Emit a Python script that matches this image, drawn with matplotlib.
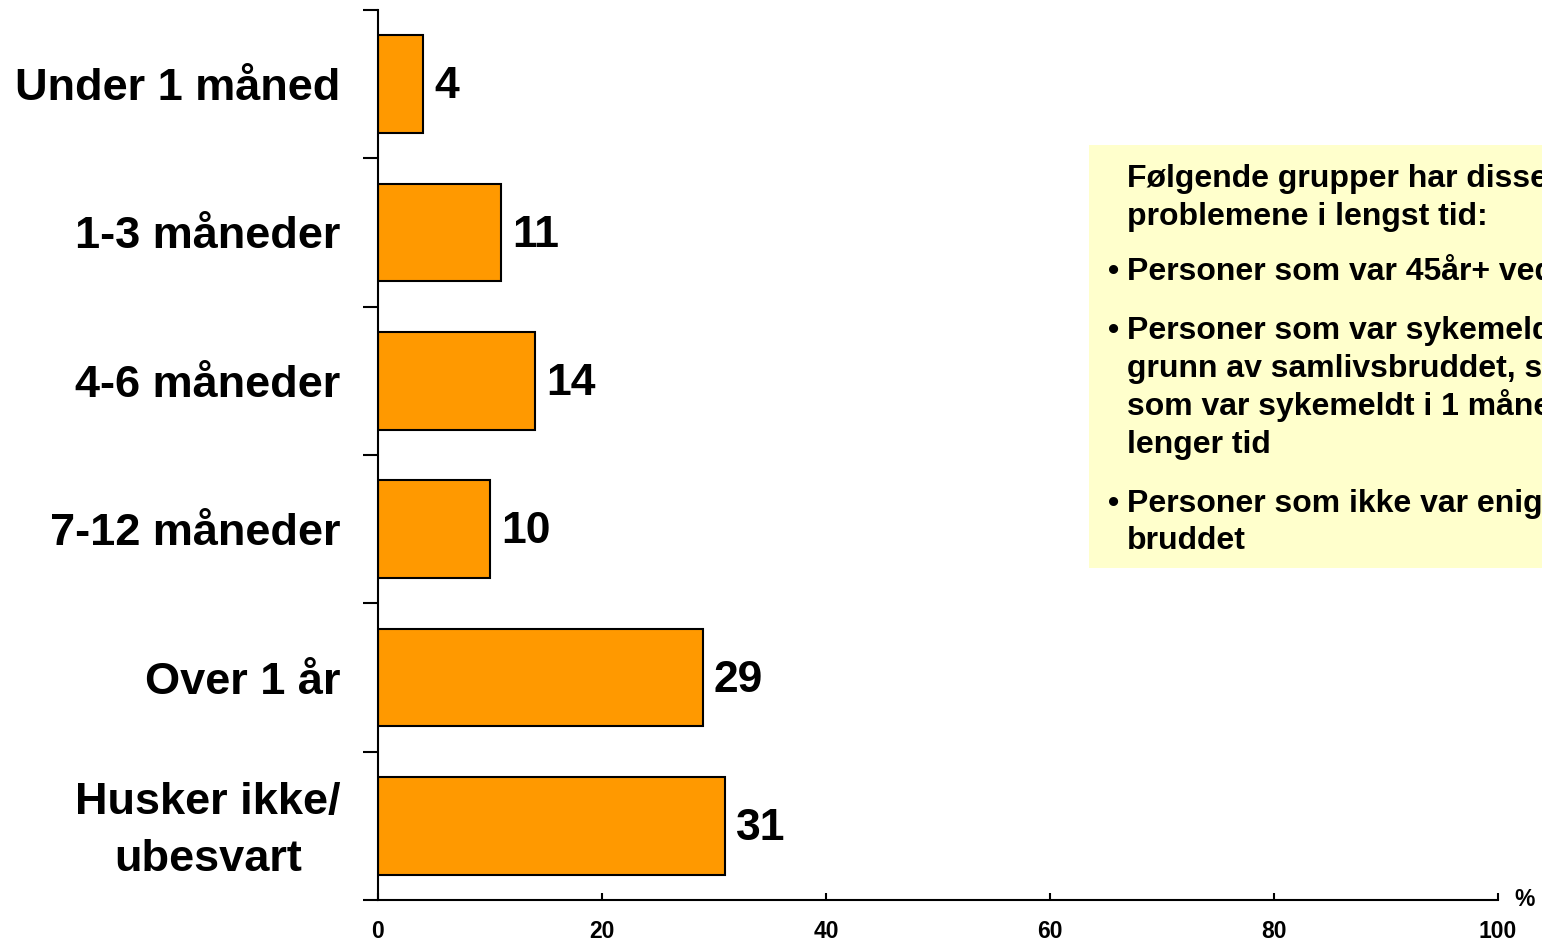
import matplotlib
matplotlib.use("Agg")
import matplotlib.pyplot as plt
from matplotlib.patches import Rectangle
from matplotlib.transforms import ScaledTranslation

plt.rcParams['font.family'] = ['Liberation Sans', 'DejaVu Sans']
plt.rcParams['font.weight'] = 'bold'

categories = ["Under 1 måned", "1-3 måneder", "4-6 måneder", "7-12 måneder",
              "Over 1 år", "Husker ikke/\nubesvart"]
values = [4, 11, 14, 10, 29, 31]
xticks = [0, 20, 40, 60, 80, 100]

box_header = ["Følgende grupper har disse", "problemene i lengst tid:"]
box_bullets = [
    ["Personer som var 45år+ ved bruddet"],
    ["Personer som var sykemeldt på",
     "grunn av samlivsbruddet, særlig de",
     "som var sykemeldt i 1 måned eller",
     "lenger tid"],
    ["Personer som ikke var enige i",
     "bruddet"],
]

W, H = 1542, 943
fig = plt.figure(figsize=(W / 100, H / 100), dpi=100)
ax = fig.add_axes([378 / W, 1 - 900 / H, (1498 - 378) / W, (900 - 10) / H])

n = len(categories)
ypos = list(range(n))
ax.barh(ypos, values, height=0.66, color="#FF9900", edgecolor="black", linewidth=1.5)
ax.set_ylim(n - 0.5, -0.5)
ax.set_xlim(0, 100)

for y, v in zip(ypos, values):
    ax.annotate(str(v), (v, y), xytext=(8, -2), textcoords="offset points",
                ha="left", va="center", fontsize=32, fontweight="bold")

# y boundaries ticks
ax.set_yticks([i - 0.5 for i in range(n + 1)])
ax.set_yticklabels([])
ax.tick_params(axis="y", which="major", length=11, width=1.5, direction="out")
ax.set_yticks(ypos, minor=True)
labels = ax.set_yticklabels(categories, minor=True, fontsize=32.5, fontweight="bold",
                            multialignment="center", linespacing=1.5)
ax.tick_params(axis="y", which="minor", length=0, pad=27)
for lab in labels:
    if "\n" in lab.get_text():
        lab.set_transform(lab.get_transform() + ScaledTranslation(0, 0.07, fig.dpi_scale_trans))

ax.set_xticks(xticks)
ax.set_xticklabels([str(t) for t in xticks], fontsize=16.5, fontweight="bold")
ax.tick_params(axis="x", direction="in", length=5, width=1.5, pad=14.5)

for s in ["top", "right"]:
    ax.spines[s].set_visible(False)
for s in ["left", "bottom"]:
    ax.spines[s].set_linewidth(1.5)

fig.text(1514 / W, 1 - 900 / H, "%", fontsize=16.5, fontweight="bold",
         ha="left", va="center")

# text box
fig.patches.append(Rectangle((1089 / W, 1 - 568 / H), (W - 1089) / W, (568 - 145) / H,
                             transform=fig.transFigure, facecolor="#FFFFCC",
                             edgecolor="none", zorder=0))
tx = 1127 / W
bx = 1108 / W
fs = 23
baselines_header = [187, 225]
for line, yb in zip(box_header, baselines_header):
    fig.text(tx, 1 - yb / H, line, fontsize=fs, fontweight="bold", va="baseline", ha="left")
bullet_baselines = [[280], [339, 377, 415, 453], [512, 549]]
for lines, bls in zip(box_bullets, bullet_baselines):
    fig.text(bx, 1 - bls[0] / H, "•", fontsize=fs, fontweight="bold", va="baseline", ha="left")
    for line, yb in zip(lines, bls):
        fig.text(tx, 1 - yb / H, line, fontsize=fs, fontweight="bold", va="baseline", ha="left")

fig.savefig("out.png", dpi=100)
